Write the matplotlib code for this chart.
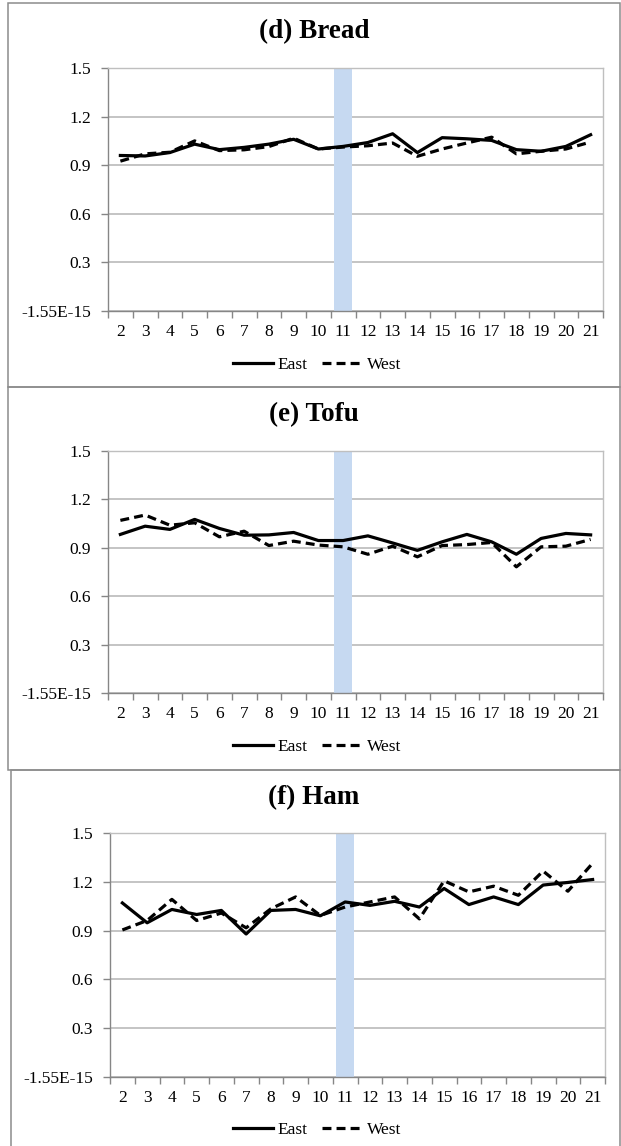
import matplotlib
matplotlib.use("Agg")
import matplotlib.pyplot as plt
from matplotlib.patches import Rectangle
from matplotlib.ticker import FixedLocator

plt.rcParams['font.family'] = ['Liberation Serif', 'DejaVu Serif']

periods = ["2", "3", "4", "5", "6", "7", "8", "9", "10", "11",
           "12", "13", "14", "15", "16", "17", "18", "19", "20", "21"]
shade_period = "11"
shade_value = 1.5

yticks = [0.0, 0.3, 0.6, 0.9, 1.2, 1.5]
yticklabels = ["-1.55E-15", "0.3", "0.6", "0.9", "1.2", "1.5"]

titles = ["(d) Bread", "(e) Tofu", "(f) Ham"]

bread_east = [0.96, 0.957, 0.978, 1.03, 0.996, 1.01, 1.03, 1.06, 1.0, 1.016,
              1.04, 1.094, 0.978, 1.07, 1.063, 1.053, 0.996, 0.986, 1.016, 1.088]
bread_west = [0.925, 0.97, 0.98, 1.05, 0.99, 0.995, 1.015, 1.067, 1.0, 1.012,
              1.02, 1.037, 0.955, 1.0, 1.037, 1.073, 0.97, 0.986, 1.0, 1.043]

tofu_east = [0.983, 1.034, 1.014, 1.076, 1.02, 0.978, 0.98, 0.995, 0.945, 0.945,
             0.974, 0.93, 0.884, 0.937, 0.983, 0.937, 0.86, 0.958, 0.989, 0.98]
tofu_west = [1.07, 1.103, 1.04, 1.055, 0.968, 1.003, 0.914, 0.941, 0.917, 0.906,
             0.86, 0.91, 0.844, 0.914, 0.92, 0.933, 0.782, 0.906, 0.91, 0.952]

ham_east = [1.07, 0.948, 1.03, 0.999, 1.024, 0.879, 1.024, 1.03, 0.991, 1.076,
            1.055, 1.08, 1.045, 1.159, 1.06, 1.107, 1.06, 1.18, 1.196, 1.214]
ham_west = [0.904, 0.962, 1.092, 0.962, 1.008, 0.917, 1.034, 1.107, 0.993, 1.045,
            1.076, 1.107, 0.972, 1.206, 1.138, 1.173, 1.117, 1.266, 1.142, 1.314]

series = [(bread_east, bread_west), (tofu_east, tofu_west), (ham_east, ham_west)]

W, H = 621, 1146
fig = plt.figure(figsize=(W / 100, H / 100), dpi=100)

# pixel layout of each panel: border box, plot box, title y, legend y
panels = [
    dict(box=(8, 3, 620, 387), ax=(108, 68, 603, 311), title_y=32, leg_y=365),
    dict(box=(8, 387, 620, 770), ax=(108, 451, 603, 693), title_y=415, leg_y=747),
    dict(box=(11, 770, 620, 1150), ax=(110, 833, 605, 1077), title_y=798, leg_y=1130),
]

x = list(range(len(periods)))
grid_c = '#BFBFBF'
axis_c = '#868686'

for p, title, (east, west) in zip(panels, titles, series):
    bx0, by0, bx1, by1 = p['box']
    fig.patches.append(Rectangle((bx0 / W, 1 - by1 / H), (bx1 - bx0) / W, (by1 - by0) / H,
                                 transform=fig.transFigure, fill=False,
                                 edgecolor='#8C8C8C', lw=1.1, zorder=0))
    x0, y0, x1, y1 = p['ax']
    ax = fig.add_axes([x0 / W, 1 - y1 / H, (x1 - x0) / W, (y1 - y0) / H])

    ax.set_xlim(-0.5, len(periods) - 0.5)
    ax.set_ylim(0, 1.5)
    ax.set_yticks(yticks)
    ax.set_yticklabels(yticklabels)
    ax.set_xticks(x)
    ax.set_xticklabels(periods)
    ax.xaxis.set_minor_locator(FixedLocator([i - 0.5 for i in range(len(periods) + 1)]))

    ax.grid(axis='y', color=grid_c, lw=1.3, zorder=1)
    ax.set_axisbelow(True)
    for s in ['top', 'right']:
        ax.spines[s].set_color(grid_c)
        ax.spines[s].set_linewidth(1.0)
    for s in ['left', 'bottom']:
        ax.spines[s].set_color(axis_c)
        ax.spines[s].set_linewidth(1.0)

    ax.tick_params(axis='x', which='major', length=0, pad=9, labelsize=12.5)
    ax.tick_params(axis='x', which='minor', length=5, color=axis_c, width=1.0)
    ax.tick_params(axis='y', which='major', length=5, color=axis_c, width=1.0,
                   pad=7, labelsize=12.5)

    idx = periods.index(shade_period)
    ax.bar([idx], [shade_value], width=0.72, color='#C6D9F1', zorder=2)

    l1, = ax.plot(x, east, color='black', lw=2.3, zorder=4, label='East')
    l2, = ax.plot(x, west, color='black', lw=2.3, ls=(0, (2.8, 1.6)), zorder=3, label='West')

    fig.text(314 / W, 1 - p['title_y'] / H, title, ha='center', va='center',
             fontsize=19.5, fontweight='bold')
    fig.legend(handles=[l1, l2], loc='center', bbox_to_anchor=(317 / W, 1 - p['leg_y'] / H),
               ncol=2, frameon=False, fontsize=12.5, handlelength=2.3,
               handletextpad=0.3, columnspacing=0.8, borderaxespad=0, borderpad=0)

fig.savefig('out.png', dpi=100)
